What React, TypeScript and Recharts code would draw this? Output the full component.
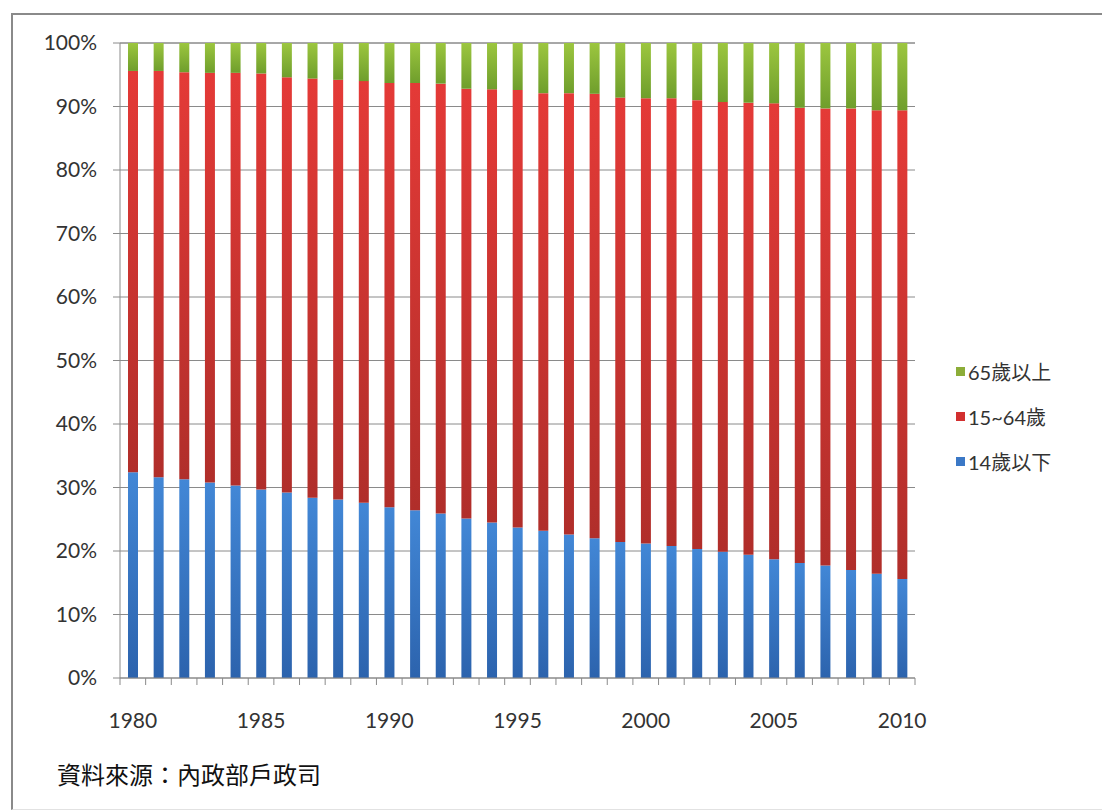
import { Bar, BarChart, CartesianGrid, Legend, XAxis, YAxis } from "recharts";

const years = [
  "1980", "1981", "1982", "1983", "1984", "1985", "1986", "1987", "1988", "1989",
  "1990", "1991", "1992", "1993", "1994", "1995", "1996", "1997", "1998", "1999",
  "2000", "2001", "2002", "2003", "2004", "2005", "2006", "2007", "2008", "2009",
  "2010",
];

// 14歲以下
const youth = [
  32.4, 31.6, 31.3, 30.8, 30.3, 29.7, 29.2, 28.4, 28.1, 27.6,
  26.9, 26.4, 25.9, 25.1, 24.5, 23.7, 23.2, 22.6, 22.0, 21.4,
  21.2, 20.8, 20.3, 19.9, 19.4, 18.7, 18.1, 17.7, 17.0, 16.4,
  15.6,
];

// 15~64歲
const working = [
  63.2, 64.0, 64.1, 64.5, 65.0, 65.5, 65.4, 66.0, 66.1, 66.4,
  66.8, 67.3, 67.7, 67.7, 68.2, 68.9, 68.9, 69.5, 70.0, 70.0,
  70.1, 70.5, 70.7, 70.8, 71.2, 71.8, 71.7, 72.0, 72.7, 73.0,
  73.8,
];

// 65歲以上
const elderly = [
  4.4, 4.4, 4.6, 4.7, 4.7, 4.8, 5.4, 5.6, 5.8, 6.0,
  6.3, 6.3, 6.4, 7.2, 7.3, 7.4, 7.9, 7.9, 8.0, 8.6,
  8.7, 8.7, 9.0, 9.3, 9.4, 9.5, 10.2, 10.3, 10.3, 10.6,
  10.6,
];

const yTicks = [0, 10, 20, 30, 40, 50, 60, 70, 80, 90, 100];
const labelYears = ["1980", "1985", "1990", "1995", "2000", "2005", "2010"];

const series = [
  { key: "youth", name: "14歲以下", swatch: "#3b78c6", top: "#4287d6", bottom: "#2c63ad" },
  { key: "working", name: "15~64歲", swatch: "#d22f2f", top: "#e43a37", bottom: "#b02e2a" },
  { key: "elderly", name: "65歲以上", swatch: "#8cad38", top: "#9cc63f", bottom: "#6f9e2c" },
];

const data = years.map((year, i) => ({
  year,
  youth: youth[i],
  working: working[i],
  elderly: elderly[i],
}));

const fontFamily = "Lato, 'Noto Sans CJK TC', sans-serif";

function YearTick(props: any) {
  const { x, y, payload, index } = props;
  const half = payload && payload.offset != null ? payload.offset : 12.8;
  const isLast = index === years.length - 1;
  return (
    <g>
      <line x1={x - half} x2={x - half} y1={y} y2={y + 7} stroke="#8a8a8a" />
      {isLast && <line x1={x + half} x2={x + half} y1={y} y2={y + 7} stroke="#8a8a8a" />}
      {labelYears.includes(payload.value) && (
        <text
          x={x}
          y={y + 41}
          textAnchor="middle"
          dominantBaseline="central"
          fontSize={21}
          fill="#333"
          fontFamily={fontFamily}
        >
          {payload.value}
        </text>
      )}
    </g>
  );
}

function SideLegend(props: any) {
  const items = [...(props.payload || [])].reverse();
  return (
    <div style={{ fontFamily }}>
      {items.map((item: any) => {
        const s = series.find((d) => d.key === item.dataKey);
        return (
          <div key={item.dataKey} style={{ display: "flex", alignItems: "center", height: 45 }}>
            <span style={{ width: 9, height: 9, background: s ? s.swatch : item.color, marginRight: 3 }} />
            <span style={{ fontSize: 20, color: "#333" }}>{item.value}</span>
          </div>
        );
      })}
    </div>
  );
}

export default function App() {
  return (
    <div style={{ position: "absolute", left: 0, top: 0, width: 1102, height: 810, background: "#fff", overflow: "hidden" }}>
      <div
        style={{
          position: "absolute",
          left: 11,
          top: 13,
          width: 1100,
          height: 794,
          borderTop: "2px solid #8a8a8a",
          borderLeft: "2px solid #8a8a8a",
          borderBottom: "1px solid #e2e2e2",
        }}
      />
      <div style={{ position: "absolute", left: 0, top: 0 }}>
        <BarChart
          width={1102}
          height={810}
          data={data}
          margin={{ top: 43, right: 187, bottom: 82, left: 60 }}
          barSize={10}
        >
          <defs>
            {series.map((s) => (
              <linearGradient key={s.key} id={`grad-${s.key}`} x1="0" y1="0" x2="0" y2="1">
                <stop offset="0%" stopColor={s.top} />
                <stop offset="100%" stopColor={s.bottom} />
              </linearGradient>
            ))}
          </defs>
          <CartesianGrid vertical={false} stroke="#8a8a8a" />
          <XAxis
            dataKey="year"
            interval={0}
            height={50}
            axisLine={{ stroke: "#8a8a8a" }}
            tickLine={false}
            tickSize={0}
            tickMargin={0}
            tick={<YearTick />}
          />
          <YAxis
            width={60}
            domain={[0, 100]}
            ticks={yTicks}
            tickFormatter={(v: number) => `${v}%`}
            axisLine={{ stroke: "#8a8a8a" }}
            tickLine={{ stroke: "#8a8a8a" }}
            tickSize={7}
            tickMargin={16}
            tick={{ fontSize: 21, fill: "#333", fontFamily }}
          />
          <Legend
            layout="vertical"
            align="center"
            verticalAlign="middle"
            width={150}
            wrapperStyle={{ left: 956, top: 349 }}
            content={<SideLegend />}
          />
          {series.map((s) => (
            <Bar
              key={s.key}
              dataKey={s.key}
              name={s.name}
              stackId="a"
              fill={`url(#grad-${s.key})`}
              isAnimationActive={false}
            />
          ))}
        </BarChart>
      </div>
      <div
        style={{
          position: "absolute",
          left: 57,
          top: 756,
          fontSize: 24,
          fontWeight: 400,
          color: "#111",
          fontFamily: "'Noto Sans CJK TC', sans-serif",
        }}
      >
        資料來源：內政部戶政司
      </div>
    </div>
  );
}
